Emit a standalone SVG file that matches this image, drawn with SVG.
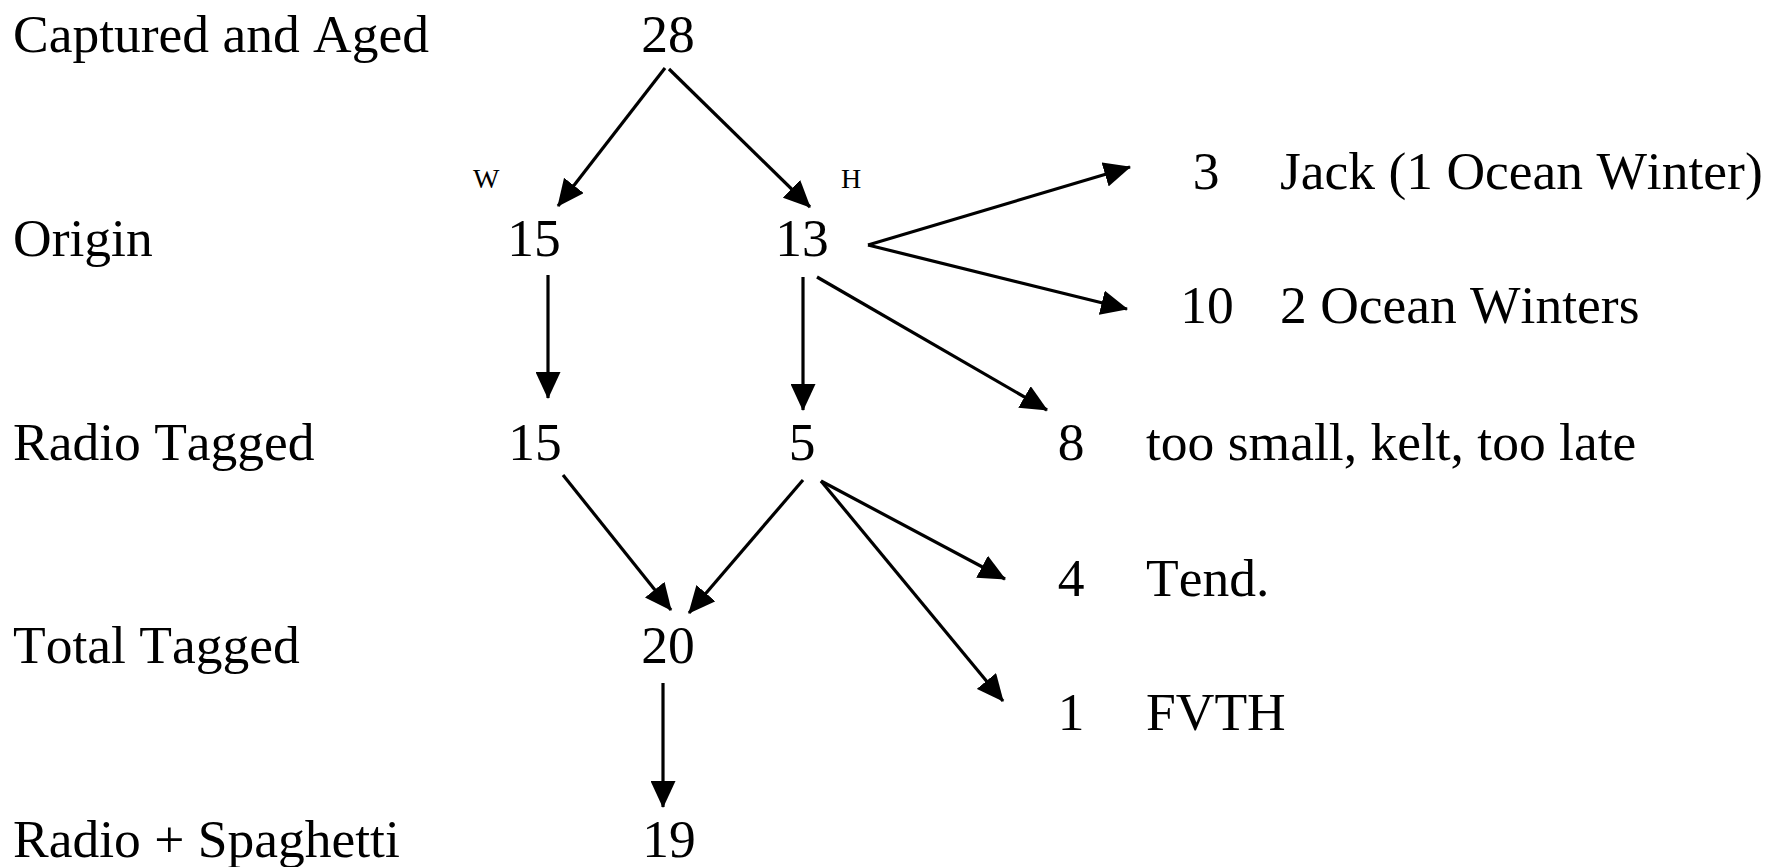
<svg xmlns="http://www.w3.org/2000/svg" width="1766" height="867" viewBox="0 0 1766 867" font-family="Liberation Serif, serif">
  <style>
    text { font-family: 'Liberation Serif', serif; font-size: 53.5px; font-kerning: none; fill: #000; }
    .num { text-anchor: middle; }
    .tag { font-size: 28px; }
    .conn line { stroke: #000; stroke-width: 3.2; fill: none; marker-end: url(#head); }
  </style>
  <defs>
    <marker id="head" markerUnits="userSpaceOnUse" viewBox="0 0 27 25" markerWidth="27" markerHeight="25" refX="26" refY="12.5" orient="auto">
      <path d="M0,0 L27,12.5 L0,25 Z" fill="#000"/>
    </marker>
  </defs>

  <rect width="1766" height="867" fill="#fff"/>

  <!-- row headings -->
  <g id="row-captured"><text x="13" y="52">Captured and Aged</text></g>
  <g id="row-origin"><text x="13" y="256">Origin</text></g>
  <g id="row-radio"><text x="13" y="460">Radio Tagged</text></g>
  <g id="row-total"><text x="13" y="663">Total Tagged</text></g>
  <g id="row-spaghetti"><text x="13" y="857">Radio + Spaghetti</text></g>

  <!-- counts -->
  <g id="n-captured"><text class="num" x="668" y="52">28</text></g>
  <g id="tag-wild"><text class="tag" x="473" y="188">W</text></g>
  <g id="tag-hatchery"><text class="tag" x="841" y="188">H</text></g>
  <g id="n-origin-w"><text class="num" x="534" y="256">15</text></g>
  <g id="n-origin-h"><text class="num" x="802" y="256">13</text></g>
  <g id="n-jack"><text class="num" x="1206" y="189">3</text><text x="1280" y="189">Jack (1 Ocean Winter)</text></g>
  <g id="n-2ow"><text class="num" x="1207" y="323">10</text><text x="1280" y="323">2 Ocean Winters</text></g>
  <g id="n-radio-w"><text class="num" x="535" y="460">15</text></g>
  <g id="n-radio-h"><text class="num" x="802" y="460">5</text></g>
  <g id="n-excluded"><text class="num" x="1071" y="460">8</text><text x="1146" y="460">too small, kelt, too late</text></g>
  <g id="n-tend"><text class="num" x="1071" y="596">4</text><text x="1146" y="596">Tend.</text></g>
  <g id="n-total"><text class="num" x="668" y="663">20</text></g>
  <g id="n-fvth"><text class="num" x="1071" y="730">1</text><text x="1146" y="730">FVTH</text></g>
  <g id="n-spaghetti"><text class="num" x="669" y="857">19</text></g>

  <!-- arrows -->
  <g id="connectors" class="conn">
    <line x1="665" y1="68" x2="558" y2="206"/>
    <line x1="669" y1="69" x2="810" y2="207"/>
    <line x1="548" y1="275" x2="548" y2="398"/>
    <line x1="803" y1="277" x2="803" y2="410"/>
    <line x1="817" y1="277" x2="1047" y2="410"/>
    <line x1="868" y1="245" x2="1130" y2="167"/>
    <line x1="868" y1="245" x2="1127" y2="309"/>
    <line x1="563" y1="475" x2="671" y2="610"/>
    <line x1="803" y1="480" x2="689" y2="613"/>
    <line x1="821" y1="481" x2="1005" y2="579"/>
    <line x1="821" y1="481" x2="1003" y2="701"/>
    <line x1="663" y1="683" x2="663" y2="807"/>
  </g>
</svg>
